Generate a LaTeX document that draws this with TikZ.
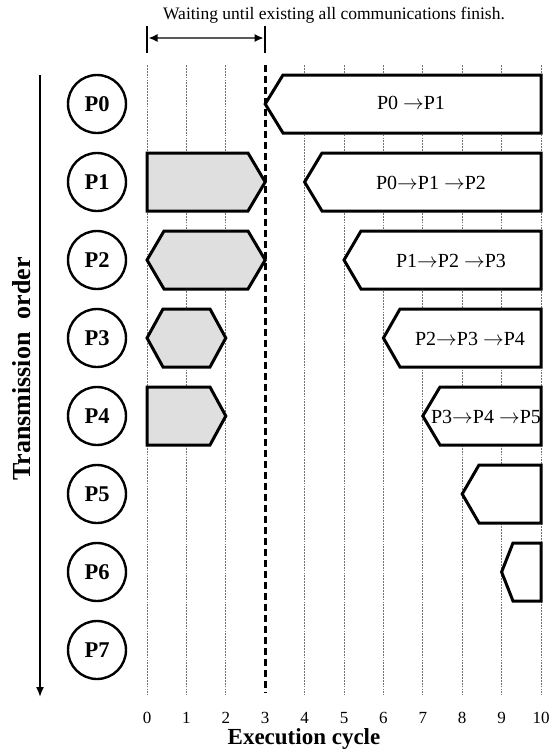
\documentclass[tikz,border=0pt]{standalone}
\usepackage{fontspec}
\setmainfont{Liberation Serif}
\usetikzlibrary{arrows.meta}
\newcommand\sendarrow{$\rightarrow$}
\tikzset{
  gridln/.style={black!55, line width=1pt, dash pattern=on 1.8pt off 1.1pt},
  waitln/.style={black, line width=2.8pt, dash pattern=on 7pt off 4pt},
  barln/.style={draw=black, line width=3pt, line join=miter},
  whitebar/.style={barln, fill=white},
  graybar/.style={barln, fill=gray!25},
  procnode/.style={circle, draw=black, line width=2.4pt, minimum size=58pt, inner sep=0pt,
    font=\bfseries\fontsize{22.5}{24}\selectfont},
  bartext/.style={font=\fontsize{20}{22}\selectfont, inner sep=0pt},
  ticklab/.style={font=\fontsize{17}{19}\selectfont, inner sep=0pt},
  axlab/.style={font=\bfseries\fontsize{23}{25}\selectfont, inner sep=0pt},
}
\begin{document}
\begin{tikzpicture}[x=1pt,y=-1pt]
\useasboundingbox (0,0) rectangle (558,753);
\fill[white] (0,0) rectangle (558,753);
% grid lines
\foreach \c in {0,1,2,4,5,6,7,8,9,10} {
  \draw[gridln] ({147+39.4*\c},65) -- ({147+39.4*\c},695);
}
% gray bars (waiting communications)
\draw[graybar] (147,153) -- (248,153) -- (265.2,182) -- (248,211) -- (147,211) -- cycle;
\draw[graybar] (147,260) -- (164,231) -- (248,231) -- (265.2,260) -- (248,289) -- (164,289) -- cycle;
\draw[graybar] (147,338) -- (163,309) -- (210,309) -- (225.8,338) -- (210,367) -- (163,367) -- cycle;
\draw[graybar] (147,387) -- (210,387) -- (225.8,416) -- (210,445) -- (147,445) -- cycle;
% white bars (new communications)
\draw[whitebar] (265.2,104) -- (283,75) -- (541,75) -- (541,133) -- (283,133) -- cycle;
\draw[whitebar] (304.6,182) -- (322,153) -- (541,153) -- (541,211) -- (322,211) -- cycle;
\draw[whitebar] (344,260) -- (361,231) -- (541,231) -- (541,289) -- (361,289) -- cycle;
\draw[whitebar] (383.4,338) -- (400,309) -- (541,309) -- (541,367) -- (400,367) -- cycle;
\draw[whitebar] (422.8,416) -- (440,387) -- (541,387) -- (541,445) -- (440,445) -- cycle;
\draw[whitebar] (462.2,494) -- (479,465) -- (541,465) -- (541,523) -- (479,523) -- cycle;
\draw[whitebar] (501.6,572) -- (513,543) -- (541,543) -- (541,601) -- (513,601) -- cycle;
% bar texts
\node[bartext] (t0) at (411,103) {P0 \sendarrow P1};
\node[bartext] (t1) at (431,183) {P0\sendarrow P1 \sendarrow P2};
\node[bartext] (t2) at (451,261) {P1\sendarrow P2 \sendarrow P3};
\node[bartext] (t3) at (470,339) {P2\sendarrow P3 \sendarrow P4};
\node[bartext] (t4) at (486,417) {P3\sendarrow P4 \sendarrow P5};
% waiting line at cycle 3
\draw[waitln] (265.2,65) -- (265.2,693);
% process circles
\foreach \i in {0,...,7} {
  \node[procnode] (p\i) at (97,{104+78*\i}) {P\i};
}
% transmission order axis
\coordinate (ordtop) at (40,75);
\coordinate (ordbot) at (40,697);
\draw[line width=1.6pt, -{Latex[length=10pt,width=8pt]}] (ordtop) -- (ordbot);
\node[axlab, rotate=90, font=\bfseries\fontsize{26}{28}\selectfont] (ordlab) at (22,369) {Transmission\ \ order};
% execution cycle axis
\foreach \c in {0,...,10} {
  \node[ticklab] (n\c) at ({147+39.4*\c},718) {\c};
}
\node[axlab] (exlab) at (304,739) {Execution cycle};
% waiting annotation
\coordinate (wl) at (147,38);
\coordinate (wr) at (265.2,38);
\draw[line width=2.4pt] (147,26) -- (147,53);
\draw[line width=2.4pt] (265.2,26) -- (265.2,53);
\draw[gray!70!black, line width=1.6pt, {Latex[length=9pt,width=8pt,black]}-{Latex[length=9pt,width=8pt,black]}] ([xshift=1.5pt]wl) -- ([xshift=-1.5pt]wr);
\node[font=\fontsize{17.5}{19}\selectfont, inner sep=0pt] (wait) at (334,15) {Waiting until existing all communications finish.};
\end{tikzpicture}
\end{document}
